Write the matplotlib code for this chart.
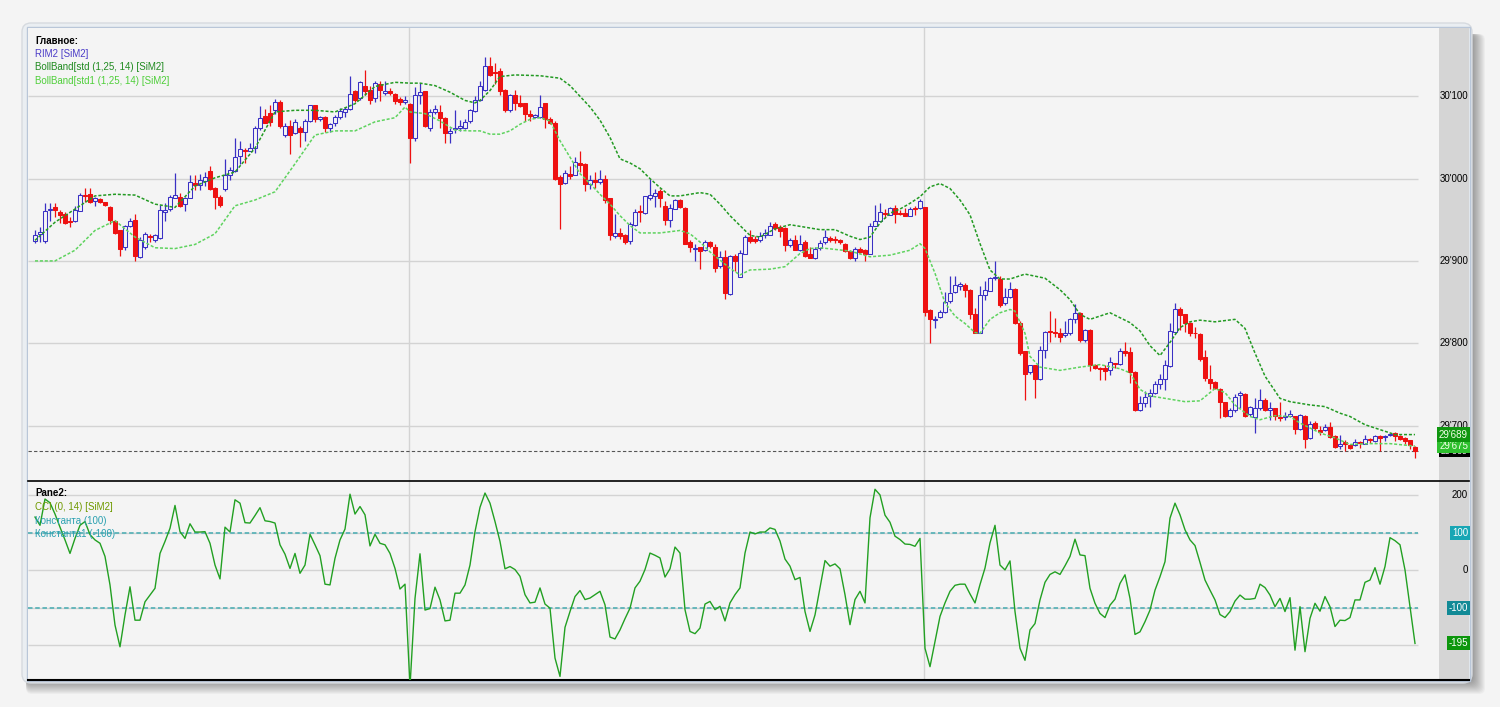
import numpy as np
import matplotlib
matplotlib.use("Agg")
import matplotlib.pyplot as plt
from matplotlib.patches import Rectangle, FancyBboxPatch

plt.rcParams['font.family'] = ['Liberation Sans', 'DejaVu Sans']

# --- RIM2 [SiM2] candles ---
opens = [
    29924, 29933, 29924, 29962, 29966, 29960, 29957, 29948, 29948, 29961, 29980, 29981, 29973, 29975, 29971,
    29966, 29948, 29937, 29917, 29942, 29950, 29905, 29917, 29930, 29925, 29928, 29959, 29963, 29976, 29978,
    29969, 29976, 29995, 29992, 29997, 30009, 29988, 29978, 29987, 30004, 30009, 30027, 30035, 30034, 30037,
    30061, 30076, 30080, 30083, 30093, 30053, 30064, 30055, 30062, 30057, 30070, 30089, 30072, 30075, 30062,
    30067, 30075, 30081, 30084, 30106, 30098, 30113, 30108, 30098, 30115, 30104, 30107, 30103, 30097, 30093,
    30091, 30049, 30102, 30106, 30062, 30081, 30081, 30074, 30055, 30060, 30062, 30062, 30070, 30082, 30096,
    30108, 30137, 30129, 30131, 30108, 30083, 30101, 30092, 30092, 30079, 30075, 30075, 30092, 30072, 30068,
    30002, 29995, 30006, 30004, 30019, 30018, 29994, 29998, 29996, 30000, 29976, 29930, 29934, 29931, 29924,
    29944, 29961, 29958, 29977, 29979, 29985, 29967, 29950, 29963, 29974, 29964, 29923, 29915, 29917, 29913,
    29923, 29917, 29894, 29905, 29860, 29906, 29881, 29908, 29929, 29927, 29925, 29932, 29932, 29945, 29941,
    29940, 29919, 29926, 29913, 29923, 29909, 29903, 29916, 29923, 29928, 29927, 29926, 29921, 29912, 29903,
    29915, 29913, 29909, 29943, 29948, 29958, 29956, 29964, 29958, 29958, 29955, 29964, 29964, 29965, 29840,
    29828, 29832, 29838, 29851, 29862, 29870, 29871, 29865, 29835, 29813, 29858, 29864, 29879, 29878, 29849,
    29856, 29866, 29825, 29790, 29765, 29773, 29756, 29792, 29815, 29814, 29813, 29810, 29813, 29830, 29837,
    29804, 29816, 29774, 29770, 29770, 29767, 29776, 29775, 29791, 29789, 29765, 29719, 29727, 29736, 29740,
    29751, 29756, 29772, 29814, 29841, 29835, 29824, 29813, 29811, 29783, 29757, 29753, 29744, 29728, 29712,
    29719, 29737, 29738, 29714, 29710, 29721, 29731, 29719, 29721, 29710, 29710, 29711, 29711, 29696, 29712,
    29685, 29703, 29694, 29694, 29698, 29687, 29675, 29680, 29676, 29676, 29680, 29678, 29684, 29681, 29687,
    29686, 29688, 29691, 29687, 29685, 29682, 29674,
]
highs = [
    29938, 29941, 29970, 29970, 29970, 29962, 29959, 29953, 29967, 29982, 29988, 29988, 29978, 29976, 29972,
    29967, 29950, 29938, 29944, 29952, 29957, 29929, 29935, 29933, 29933, 29968, 29970, 29980, 30007, 29982,
    29978, 30004, 30004, 30006, 30008, 30015, 29990, 29980, 30024, 30014, 30049, 30046, 30037, 30043, 30064,
    30088, 30084, 30089, 30097, 30096, 30067, 30071, 30072, 30064, 30072, 30089, 30089, 30076, 30076, 30068,
    30077, 30086, 30087, 30125, 30108, 30118, 30132, 30113, 30118, 30119, 30118, 30110, 30104, 30099, 30100,
    30092, 30111, 30116, 30107, 30085, 30089, 30089, 30075, 30062, 30083, 30071, 30072, 30085, 30100, 30119,
    30148, 30148, 30140, 30135, 30109, 30103, 30108, 30101, 30092, 30083, 30078, 30102, 30092, 30075, 30070,
    30004, 30010, 30015, 30026, 30033, 30019, 30005, 30008, 30010, 30004, 29977, 29957, 29940, 29933, 29947,
    29963, 29968, 29979, 30000, 29987, 29987, 29973, 29969, 29975, 29975, 29965, 29925, 29921, 29917, 29925,
    29924, 29920, 29912, 29913, 29907, 29908, 29913, 29931, 29938, 29930, 29935, 29939, 29947, 29947, 29944,
    29941, 29928, 29932, 29932, 29925, 29917, 29917, 29925, 29937, 29930, 29930, 29927, 29922, 29913, 29917,
    29917, 29914, 29946, 29968, 29970, 29963, 29966, 29968, 29962, 29964, 29965, 29967, 29975, 29966, 29841,
    29833, 29840, 29862, 29882, 29882, 29874, 29873, 29866, 29843, 29869, 29875, 29881, 29900, 29882, 29867,
    29874, 29867, 29827, 29790, 29774, 29773, 29797, 29815, 29839, 29831, 29819, 29827, 29831, 29848, 29838,
    29817, 29817, 29775, 29771, 29774, 29783, 29776, 29794, 29801, 29796, 29766, 29736, 29742, 29744, 29754,
    29762, 29780, 29824, 29849, 29844, 29836, 29826, 29820, 29813, 29792, 29774, 29754, 29746, 29729, 29721,
    29738, 29742, 29739, 29724, 29733, 29744, 29733, 29728, 29721, 29728, 29717, 29719, 29712, 29714, 29713,
    29705, 29705, 29699, 29702, 29704, 29689, 29689, 29683, 29678, 29684, 29681, 29689, 29685, 29689, 29688,
    29688, 29690, 29692, 29688, 29686, 29683, 29675,
]
lows = [
    29922, 29923, 29922, 29949, 29953, 29946, 29945, 29941, 29947, 29961, 29972, 29970, 29967, 29970, 29967,
    29945, 29933, 29906, 29913, 29941, 29900, 29904, 29915, 29923, 29923, 29927, 29949, 29961, 29976, 29965,
    29961, 29976, 29986, 29986, 29991, 29986, 29963, 29965, 29985, 29998, 30008, 30018, 30019, 30033, 30031,
    30059, 30067, 30064, 30079, 30062, 30051, 30030, 30054, 30039, 30046, 30069, 30069, 30070, 30057, 30057,
    30064, 30072, 30075, 30083, 30093, 30096, 30102, 30091, 30093, 30094, 30102, 30102, 30091, 30089, 30091,
    30019, 30046, 30091, 30063, 30058, 30078, 30062, 30043, 30043, 30056, 30058, 30060, 30068, 30081, 30094,
    30107, 30125, 30115, 30102, 30081, 30081, 30083, 30087, 30070, 30070, 30074, 30074, 30062, 30066, 29998,
    29939, 29994, 30000, 30004, 30008, 29985, 29987, 29989, 29994, 29970, 29926, 29928, 29927, 29921, 29920,
    29943, 29947, 29957, 29974, 29965, 29965, 29944, 29941, 29963, 29964, 29920, 29911, 29900, 29890, 29912,
    29916, 29887, 29891, 29854, 29859, 29888, 29880, 29908, 29922, 29922, 29923, 29928, 29931, 29937, 29929,
    29912, 29917, 29913, 29912, 29905, 29903, 29902, 29913, 29921, 29923, 29922, 29921, 29911, 29902, 29900,
    29910, 29900, 29908, 29942, 29948, 29952, 29956, 29946, 29956, 29954, 29954, 29956, 29963, 29833, 29800,
    29819, 29831, 29837, 29849, 29861, 29865, 29856, 29829, 29813, 29813, 29853, 29863, 29877, 29844, 29847,
    29855, 29823, 29786, 29731, 29763, 29733, 29755, 29782, 29801, 29808, 29801, 29808, 29810, 29825, 29802,
    29802, 29766, 29769, 29755, 29755, 29761, 29770, 29773, 29784, 29752, 29718, 29718, 29722, 29722, 29738,
    29744, 29743, 29771, 29813, 29816, 29814, 29809, 29806, 29778, 29754, 29744, 29744, 29709, 29710, 29710,
    29717, 29721, 29710, 29711, 29691, 29719, 29718, 29707, 29707, 29706, 29707, 29710, 29690, 29695, 29673,
    29684, 29695, 29688, 29693, 29685, 29673, 29671, 29669, 29672, 29675, 29673, 29677, 29679, 29680, 29669,
    29681, 29687, 29681, 29683, 29677, 29671, 29661,
]
closes = [
    29931, 29935, 29961, 29963, 29962, 29956, 29946, 29947, 29962, 29980, 29979, 29972, 29976, 29971, 29968,
    29950, 29934, 29915, 29942, 29949, 29906, 29925, 29933, 29929, 29931, 29962, 29962, 29978, 29980, 29967,
    29976, 29996, 29992, 29998, 30002, 29987, 29978, 29968, 30005, 30010, 30026, 30036, 30034, 30037, 30061,
    30074, 30068, 30069, 30093, 30064, 30064, 30053, 30069, 30057, 30070, 30089, 30072, 30075, 30061, 30066,
    30075, 30082, 30085, 30103, 30096, 30117, 30106, 30096, 30116, 30108, 30107, 30104, 30094, 30093, 30096,
    30049, 30102, 30105, 30064, 30081, 30084, 30074, 30055, 30058, 30062, 30064, 30069, 30083, 30096, 30112,
    30137, 30126, 30128, 30106, 30083, 30101, 30092, 30088, 30078, 30076, 30077, 30087, 30072, 30068, 30000,
    29994, 30007, 30003, 30020, 30017, 29994, 29998, 29996, 30000, 29974, 29932, 29934, 29930, 29923, 29945,
    29960, 29960, 29979, 29980, 29983, 29977, 29950, 29964, 29974, 29965, 29921, 29917, 29916, 29912, 29923,
    29918, 29891, 29905, 29861, 29906, 29900, 29910, 29929, 29924, 29924, 29930, 29934, 29943, 29940, 29936,
    29919, 29926, 29913, 29921, 29906, 29904, 29915, 29922, 29929, 29926, 29926, 29923, 29912, 29903, 29915,
    29911, 29909, 29943, 29948, 29960, 29957, 29964, 29957, 29957, 29955, 29963, 29963, 29973, 29838, 29829,
    29829, 29838, 29850, 29861, 29871, 29872, 29865, 29836, 29813, 29858, 29865, 29879, 29880, 29847, 29856,
    29866, 29824, 29788, 29762, 29773, 29756, 29792, 29814, 29814, 29813, 29808, 29813, 29829, 29837, 29804,
    29816, 29773, 29770, 29769, 29766, 29777, 29775, 29791, 29788, 29765, 29719, 29727, 29735, 29740, 29751,
    29757, 29774, 29815, 29842, 29834, 29824, 29813, 29812, 29781, 29758, 29752, 29745, 29728, 29712, 29719,
    29735, 29740, 29711, 29722, 29721, 29731, 29719, 29721, 29711, 29709, 29712, 29714, 29696, 29713, 29684,
    29702, 29697, 29692, 29698, 29686, 29674, 29678, 29677, 29673, 29680, 29679, 29684, 29683, 29687, 29685,
    29687, 29690, 29687, 29684, 29681, 29676, 29669,
]

# --- BollBand[std] (upper) and BollBand[std1] (lower), sampled at candle indices ---
upper_idx = [0, 4, 8, 12, 16, 20, 24, 28, 32, 36, 40, 44, 48, 52, 56, 60, 64, 68, 72, 75, 77, 80, 83, 86, 88, 89,
             91, 93, 96, 101, 105, 107, 111, 113, 115, 117, 119, 121, 123, 125, 127, 129, 133, 135, 137, 139, 141,
             143, 145, 148, 151, 153, 157, 160, 163, 165, 167, 169, 171, 173, 175, 177, 179, 181, 183, 185, 187,
             189, 191, 193, 195, 198, 202, 205, 207, 209, 211, 215, 219, 221, 223, 225, 227, 229, 231, 233, 236,
             240, 242, 244, 246, 249, 251, 255, 258, 261, 263, 266, 269, 272, 276]
upper_val = [29925, 29947, 29963, 29979, 29981, 29980, 29969, 29965, 29991, 30001, 30008, 30037, 30081, 30083,
             30083, 30081, 30091, 30112, 30117, 30116, 30116, 30113, 30105, 30095, 30092, 30095, 30107, 30124,
             30126, 30125, 30122, 30113, 30087, 30071, 30050, 30024, 30019, 30012, 30000, 29989, 29979, 29979,
             29983, 29981, 29969, 29955, 29943, 29931, 29929, 29939, 29944, 29942, 29938, 29938, 29930, 29926,
             29929, 29946, 29958, 29963, 29970, 29978, 29990, 29994, 29988, 29974, 29956, 29921, 29889, 29878,
             29878, 29884, 29879, 29865, 29853, 29835, 29829, 29837, 29825, 29815, 29797, 29785, 29801, 29819,
             29826, 29828, 29826, 29829, 29818, 29788, 29760, 29733, 29729, 29725, 29723, 29715, 29711, 29701,
             29695, 29689, 29689]
lower_idx = [0, 4, 8, 12, 16, 20, 24, 28, 32, 36, 40, 44, 48, 52, 56, 60, 64, 68, 72, 74, 75, 78, 81, 84, 87, 89,
             91, 93, 95, 97, 99, 101, 103, 105, 107, 109, 111, 113, 115, 117, 119, 121, 125, 129, 131, 133, 135,
             137, 139, 141, 143, 147, 150, 153, 155, 157, 163, 167, 171, 175, 177, 178, 180, 182, 184, 186, 188,
             189, 191, 193, 195, 196, 198, 199, 201, 205, 209, 213, 217, 219, 221, 223, 226, 230, 233, 236, 238,
             240, 243, 245, 248, 251, 253, 257, 260, 263, 267, 271, 276]
lower_val = [29900, 29900, 29913, 29937, 29949, 29929, 29916, 29915, 29920, 29933, 29967, 29974, 29984, 30018,
             30053, 30058, 30058, 30069, 30074, 30087, 30081, 30079, 30070, 30059, 30058, 30058, 30054, 30054,
             30058, 30066, 30072, 30074, 30070, 30046, 30026, 30006, 29994, 29981, 29969, 29955, 29943, 29934,
             29934, 29937, 29933, 29923, 29911, 29901, 29891, 29883, 29889, 29890, 29893, 29909, 29915, 29916,
             29912, 29905, 29907, 29913, 29921, 29915, 29885, 29849, 29833, 29824, 29813, 29812, 29829, 29837,
             29841, 29839, 29812, 29784, 29771, 29767, 29771, 29774, 29769, 29764, 29744, 29736, 29733, 29729,
             29730, 29745, 29740, 29725, 29711, 29707, 29712, 29711, 29703, 29691, 29685, 29677, 29678, 29678,
             29675]

# --- CCI (0, 14), one value per candle ---
cci = [
    142, 120, 190, 180, 150, 115, 81, 45, 85, 120, 130, 95, 81, 72, 37,
    -39, -146, -204, -119, -44, -133, -133, -84, -66, -48, 45, 77, 112, 173, 103,
    85, 124, 102, 102, 103, 72, 14, -23, 115, 102, 188, 179, 127, 126, 146,
    167, 132, 130, 126, 68, 43, 5, 45, -8, 14, 96, 68, 39, -37, -39,
    32, 81, 110, 203, 150, 170, 148, 65, 96, 72, 68, 45, 5, -50, -37,
    -310, -75, 44, -106, -102, -45, -79, -135, -133, -61, -61, -39, 14, 103, 168,
    206, 179, 130, 77, 4, 10, 2, -16, -65, -87, -85, -47, -90, -101, -234,
    -283, -152, -110, -70, -54, -78, -74, -65, -56, -92, -178, -183, -159, -129, -101,
    -47, -29, 2, 46, 40, 33, -18, 4, 62, 46, -105, -163, -169, -154, -90,
    -83, -105, -96, -135, -87, -65, -47, 46, 102, 97, 102, 102, 113, 109, 78,
    30, 11, -25, -19, -110, -163, -119, -47, 26, 11, 17, 4, -65, -145, -78,
    -56, -87, 140, 216, 201, 147, 128, 91, 82, 70, 69, 64, 85, -208, -257,
    -190, -123, -87, -56, -40, -37, -37, -63, -87, -38, 6, 73, 120, 14, 1,
    25, -110, -208, -240, -159, -142, -79, -32, -11, -4, -11, 12, 37, 83, 41,
    39, -48, -88, -115, -126, -93, -77, -35, -12, -75, -171, -164, -137, -106, -53,
    -17, 23, 139, 179, 148, 108, 81, 66, 21, -26, -53, -79, -118, -126, -110,
    -82, -66, -77, -77, -75, -37, -46, -66, -97, -75, -110, -73, -213, -97, -217,
    -128, -88, -109, -70, -97, -150, -133, -134, -126, -79, -79, -32, -26, 7, -37,
    10, 87, 79, 68, 1, -97, -195,
]

session_breaks = [75, 178]
price_ticks = [29700, 29800, 29900, 30000, 30100]
cci_grid = [-200, -100, 0, 100, 200]
cci_levels = [100, -100]

W, H = 1500, 707
BG = '#f4f4f4'
BLUE = '#3a30c4'
RED = '#ee1111'
DARK_GREEN = '#239a23'
LIGHT_GREEN = '#5fd35f'
GRID = '#d3d3d3'
TEAL = '#5cb3b8'


def px_box(l, t, r, b):
    return [l / W, 1 - b / H, (r - l) / W, (b - t) / H]


def fmt(v):
    return f"{int(round(v)):,}".replace(",", "'")


fig = plt.figure(figsize=(15, 7.07), dpi=100, facecolor=BG)

# window frame and its soft shadow
bg = fig.add_axes([0, 0, 1, 1], zorder=0)
bg.set_xlim(0, W)
bg.set_ylim(H, 0)
bg.axis('off')
for k in range(1, 14):
    bg.add_patch(FancyBboxPatch((26, 34), 1446 + k, 647 + k, boxstyle='round,pad=0,rounding_size=6',
                                fc='black', ec='none', alpha=0.032))
bg.add_patch(FancyBboxPatch((22, 23), 1450, 660, boxstyle='round,pad=0,rounding_size=9',
                            fc='#eaeef2', ec='#d6dadf', lw=1))
bg.add_patch(Rectangle((27, 27), 1443, 654, fc='none', ec='#b9c6d8', lw=1))

ax1 = fig.add_axes(px_box(28, 28, 1469, 481), zorder=1)
ax2 = fig.add_axes(px_box(28, 481, 1469, 680), zorder=1)

x = np.arange(len(opens))
grid_end = 276.6
x_left = -1.4
strip_left = 280.8
label_x = 286.6

for ax in (ax1, ax2):
    ax.set_facecolor(BG)
    ax.set_xlim(x_left, 286.8)
    ax.set_xticks([])
    ax.set_yticks([])
    for s in ax.spines.values():
        s.set_visible(False)
    ax.axvspan(strip_left, 286.8, color='#d5d5d5', lw=0, zorder=0.5)
    for b in session_breaks:
        ax.axvline(b - 0.3, color=GRID, lw=1, zorder=0.6)

ax1.set_ylim(29632.6, 30183.0)
ax2.set_ylim(-292.5, 238.1)
ax2.spines['top'].set_visible(True)
ax2.spines['top'].set_color('black')
ax2.spines['top'].set_linewidth(1.2)
ax2.spines['bottom'].set_visible(True)
ax2.spines['bottom'].set_color('black')
ax2.spines['bottom'].set_linewidth(1.5)

# --- price pane ---
ax1.hlines(price_ticks, x_left, grid_end, color=GRID, lw=1, zorder=0.6)
for p in price_ticks:
    ax1.text(label_x, p, fmt(p), ha='right', va='center', fontsize=7, color='black', zorder=4)

o = np.array(opens)
c = np.array(closes)
up = c >= o
cols = np.where(up, BLUE, RED)
ax1.vlines(x, lows, highs, colors=cols, lw=0.9, zorder=2)
ax1.bar(x, np.maximum(np.abs(c - o), 0.3), bottom=np.minimum(o, c), width=0.68,
        color=np.where(up, BG, RED), edgecolor=cols, linewidth=0.75, zorder=3)

ax1.plot(upper_idx, upper_val, color=DARK_GREEN, lw=1.1, ls=(0, (2, 1.2)), zorder=4)
ax1.plot(lower_idx, lower_val, color=LIGHT_GREEN, lw=1.1, ls=(0, (2, 1.2)), zorder=4)

last_close = closes[-1]
ax1.hlines(last_close, x_left, grid_end, color='#555555', lw=0.8, linestyles=(0, (3, 2)), zorder=1.5)

# current-value labels: close label sits underneath the two band labels
ax1.text(label_x, last_close, fmt(last_close), ha='right', va='center', fontsize=6.5, color='white',
         zorder=5, bbox=dict(boxstyle='square,pad=0.2', fc='black', ec='none'))
ax1.text(label_x, lower_val[-1], fmt(lower_val[-1]), ha='right', va='center', fontsize=7, color='#f4ffe8',
         zorder=6, bbox=dict(boxstyle='square,pad=0.22', fc='#2ec02e', ec='none'))
ax1.text(label_x, upper_val[-1], fmt(upper_val[-1]), ha='right', va='center', fontsize=7, color='#f4ffe8',
         zorder=7, bbox=dict(boxstyle='square,pad=0.22', fc='#0f960f', ec='none'))

# --- CCI pane ---
ax2.hlines(cci_grid, x_left, grid_end, color=GRID, lw=1, zorder=0.6)
ax2.hlines(cci_levels, x_left, grid_end, color=TEAL, lw=1.3, linestyles=(0, (2.5, 1.5)), zorder=1.5)
ax2.plot(x, cci, color='#22a022', lw=1.0, zorder=3)

for v in (200, 0):
    ax2.text(label_x, v, fmt(v), ha='right', va='center', fontsize=7, color='black', zorder=4)
ax2.text(label_x, 100, '100', ha='right', va='center', fontsize=7, color='white', zorder=5,
         bbox=dict(boxstyle='square,pad=0.2', fc='#18a6b4', ec='none'))
ax2.text(label_x, -100, '-100', ha='right', va='center', fontsize=7, color='white', zorder=5,
         bbox=dict(boxstyle='square,pad=0.2', fc='#118a96', ec='none'))
ax2.text(label_x, cci[-1], fmt(cci[-1]), ha='right', va='center', fontsize=7, color='white', zorder=6,
         bbox=dict(boxstyle='square,pad=0.2', fc='#0c960c', ec='none'))

# --- legends ---
def legend_line(py, text, color, bold=False):
    fig.text(35 / W, 1 - py / H, text, ha='left', va='center', fontsize=7, color=color,
             fontweight='bold' if bold else 'normal', zorder=10)


legend_line(41, 'Главное:', 'black', bold=True)
legend_line(54, 'RIM2 [SiM2]', '#4b3cc8')
legend_line(67.5, 'BollBand[std (1,25, 14) [SiM2]', '#1f8a1f')
legend_line(81, 'BollBand[std1 (1,25, 14) [SiM2]', '#4fcf3a')
legend_line(493.5, 'Pane2:', 'black', bold=True)
legend_line(507, 'CCI (0, 14) [SiM2]', '#6f9a00')
legend_line(520.5, 'Константа (100)', '#2aa0b0')
legend_line(534, 'Константа1 (-100)', '#2aa0b0')

fig.savefig('out.png', dpi=100, facecolor=BG)
